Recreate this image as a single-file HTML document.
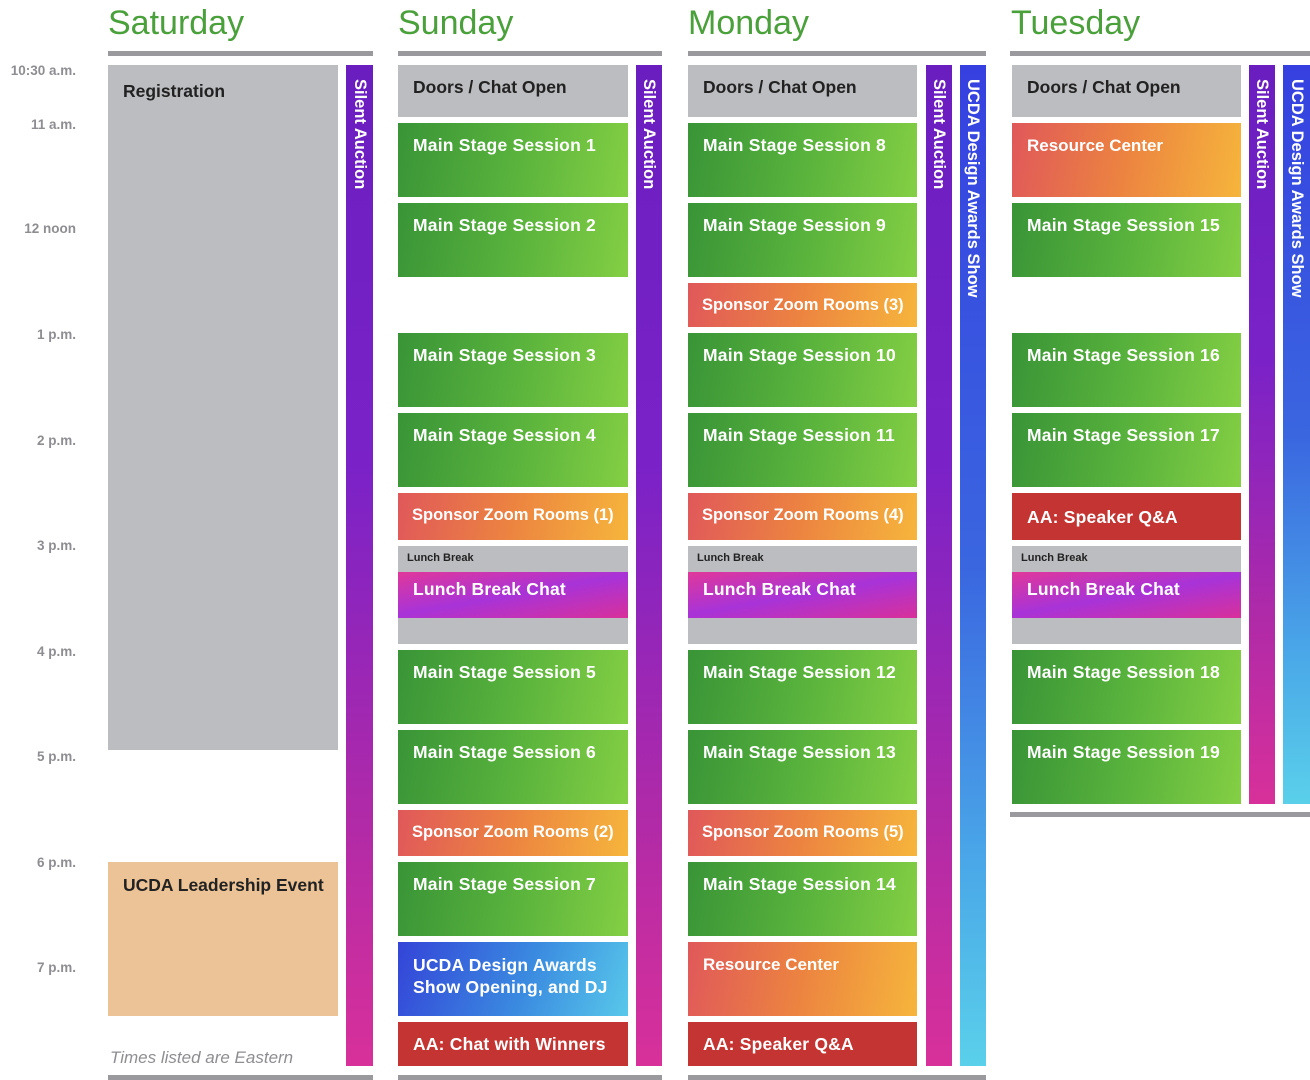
<!DOCTYPE html>
<html><head><meta charset="utf-8"><style>
*{margin:0;padding:0;box-sizing:border-box}
body{width:1310px;height:1080px;position:relative;background:#fff;font-family:"Liberation Sans",Arial,sans-serif;overflow:hidden}
.a{position:absolute}
.h{font-size:34px;color:#4aa03a;top:4px;font-weight:normal}
.ln{background:#9a9a9e;height:5px}
.t{right:1234px;font-size:13.5px;font-weight:bold;color:#8e8e92;text-align:right;white-space:nowrap}
.b{color:#fff;font-weight:bold;font-size:17.5px;padding:12px 0 0 15px;white-space:nowrap;letter-spacing:.2px}
.g{background:linear-gradient(100deg,#399437 0%,#58b23c 50%,#84cf44 100%)}
.s{background:linear-gradient(100deg,#e0585a 0%,#ec8440 50%,#f6b53c 100%);padding:13px 0 0 14px;font-size:16.5px;letter-spacing:0}
.gr{background:#bcbdc0}
.dk{color:#222;font-weight:bold;font-size:17.5px;padding:12px 0 0 15px}
.lc{background:linear-gradient(170deg,#e0389a,#a833d8 50%,#d8309a);}
.r{background:#c43432}
.v{writing-mode:vertical-rl;color:#fff;font-weight:bold;font-size:16.5px;padding-top:14px;text-align:left;line-height:27px;white-space:nowrap}
.p{background:linear-gradient(180deg,#6a1ec0 0%,#7a22c8 40%,#b02aa8 75%,#d8309a 100%)}
.u{background:linear-gradient(180deg,#3640e0 0%,#3a66e0 50%,#4aa8e8 80%,#5ad0ea 100%)}
.lb{font-size:11px;color:#222;font-weight:bold;padding:6px 0 0 9px}
</style></head><body>
<div class="a h" style="left:108px">Saturday</div>
<div class="a h" style="left:398px">Sunday</div>
<div class="a h" style="left:688px">Monday</div>
<div class="a h" style="left:1011px">Tuesday</div>
<div class="a ln" style="left:108px;top:51px;width:265px"></div>
<div class="a ln" style="left:398px;top:51px;width:264px"></div>
<div class="a ln" style="left:688px;top:51px;width:298px"></div>
<div class="a ln" style="left:1010px;top:51px;width:300px"></div>
<div class="a ln" style="left:108px;top:1075px;width:265px"></div>
<div class="a ln" style="left:398px;top:1075px;width:264px"></div>
<div class="a ln" style="left:688px;top:1075px;width:298px"></div>
<div class="a ln" style="left:1010px;top:812px;width:300px"></div>

<div class="a t" style="top:63px">10:30 a.m.</div>
<div class="a t" style="top:117px">11 a.m.</div>
<div class="a t" style="top:221px">12 noon</div>
<div class="a t" style="top:327px">1 p.m.</div>
<div class="a t" style="top:433px">2 p.m.</div>
<div class="a t" style="top:538px">3 p.m.</div>
<div class="a t" style="top:644px">4 p.m.</div>
<div class="a t" style="top:749px">5 p.m.</div>
<div class="a t" style="top:855px">6 p.m.</div>
<div class="a t" style="top:960px">7 p.m.</div>

<!-- Saturday -->
<div class="a gr dk" style="left:108px;top:65px;width:230px;height:685px;padding-top:16px">Registration</div>
<div class="a dk" style="left:108px;top:862px;width:230px;height:154px;background:#ecc396;padding-top:13px">UCDA Leadership Event</div>
<div class="a" style="left:110px;top:1048px;font-size:17px;font-style:italic;color:#8e8e92">Times listed are Eastern</div>
<div class="a p v" style="left:346px;top:65px;width:27px;height:1001px">Silent Auction</div>

<!-- Sunday -->
<div class="a gr dk" style="left:398px;top:65px;width:230px;height:52px">Doors / Chat Open</div>
<div class="a g b" style="left:398px;top:123px;width:230px;height:74px">Main Stage Session 1</div>
<div class="a g b" style="left:398px;top:203px;width:230px;height:74px">Main Stage Session 2</div>
<div class="a g b" style="left:398px;top:333px;width:230px;height:74px">Main Stage Session 3</div>
<div class="a g b" style="left:398px;top:413px;width:230px;height:74px">Main Stage Session 4</div>
<div class="a s b" style="left:398px;top:493px;width:230px;height:47px">Sponsor Zoom Rooms (1)</div>
<div class="a gr lb" style="left:398px;top:546px;width:230px;height:98px">Lunch Break</div>
<div class="a lc b" style="left:398px;top:572px;width:230px;height:46px;padding-top:7px">Lunch Break Chat</div>
<div class="a g b" style="left:398px;top:650px;width:230px;height:74px">Main Stage Session 5</div>
<div class="a g b" style="left:398px;top:730px;width:230px;height:74px">Main Stage Session 6</div>
<div class="a s b" style="left:398px;top:810px;width:230px;height:46px">Sponsor Zoom Rooms (2)</div>
<div class="a g b" style="left:398px;top:862px;width:230px;height:74px">Main Stage Session 7</div>
<div class="a b" style="left:398px;top:942px;width:230px;height:74px;background:linear-gradient(110deg,#3444d8,#3a8ae0 55%,#58c8ea);line-height:22px">UCDA Design Awards<br>Show Opening, and DJ</div>
<div class="a r b" style="left:398px;top:1022px;width:230px;height:44px;padding-top:12px">AA: Chat with Winners</div>
<div class="a p v" style="left:636px;top:65px;width:26px;height:1001px">Silent Auction</div>

<!-- Monday -->
<div class="a gr dk" style="left:688px;top:65px;width:229px;height:52px">Doors / Chat Open</div>
<div class="a g b" style="left:688px;top:123px;width:229px;height:74px">Main Stage Session 8</div>
<div class="a g b" style="left:688px;top:203px;width:229px;height:74px">Main Stage Session 9</div>
<div class="a s b" style="left:688px;top:283px;width:229px;height:44px">Sponsor Zoom Rooms (3)</div>
<div class="a g b" style="left:688px;top:333px;width:229px;height:74px">Main Stage Session 10</div>
<div class="a g b" style="left:688px;top:413px;width:229px;height:74px">Main Stage Session 11</div>
<div class="a s b" style="left:688px;top:493px;width:229px;height:47px">Sponsor Zoom Rooms (4)</div>
<div class="a gr lb" style="left:688px;top:546px;width:229px;height:98px">Lunch Break</div>
<div class="a lc b" style="left:688px;top:572px;width:229px;height:46px;padding-top:7px">Lunch Break Chat</div>
<div class="a g b" style="left:688px;top:650px;width:229px;height:74px">Main Stage Session 12</div>
<div class="a g b" style="left:688px;top:730px;width:229px;height:74px">Main Stage Session 13</div>
<div class="a s b" style="left:688px;top:810px;width:229px;height:46px">Sponsor Zoom Rooms (5)</div>
<div class="a g b" style="left:688px;top:862px;width:229px;height:74px">Main Stage Session 14</div>
<div class="a s b" style="left:688px;top:942px;width:229px;height:74px;padding-left:15px;font-size:17px">Resource Center</div>
<div class="a r b" style="left:688px;top:1022px;width:229px;height:44px;padding-top:12px">AA: Speaker Q&amp;A</div>
<div class="a p v" style="left:926px;top:65px;width:26px;height:1001px">Silent Auction</div>
<div class="a u v" style="left:960px;top:65px;width:26px;height:1001px">UCDA Design Awards Show</div>

<!-- Tuesday -->
<div class="a gr dk" style="left:1012px;top:65px;width:229px;height:52px">Doors / Chat Open</div>
<div class="a s b" style="left:1012px;top:123px;width:229px;height:74px;padding-left:15px;font-size:17px">Resource Center</div>
<div class="a g b" style="left:1012px;top:203px;width:229px;height:74px">Main Stage Session 15</div>
<div class="a g b" style="left:1012px;top:333px;width:229px;height:74px">Main Stage Session 16</div>
<div class="a g b" style="left:1012px;top:413px;width:229px;height:74px">Main Stage Session 17</div>
<div class="a r b" style="left:1012px;top:493px;width:229px;height:47px;padding-top:14px">AA: Speaker Q&amp;A</div>
<div class="a gr lb" style="left:1012px;top:546px;width:229px;height:98px">Lunch Break</div>
<div class="a lc b" style="left:1012px;top:572px;width:229px;height:46px;padding-top:7px">Lunch Break Chat</div>
<div class="a g b" style="left:1012px;top:650px;width:229px;height:74px">Main Stage Session 18</div>
<div class="a g b" style="left:1012px;top:730px;width:229px;height:74px">Main Stage Session 19</div>
<div class="a p v" style="left:1249px;top:65px;width:26px;height:739px">Silent Auction</div>
<div class="a u v" style="left:1283px;top:65px;width:27px;height:739px">UCDA Design Awards Show</div>
</body></html>
